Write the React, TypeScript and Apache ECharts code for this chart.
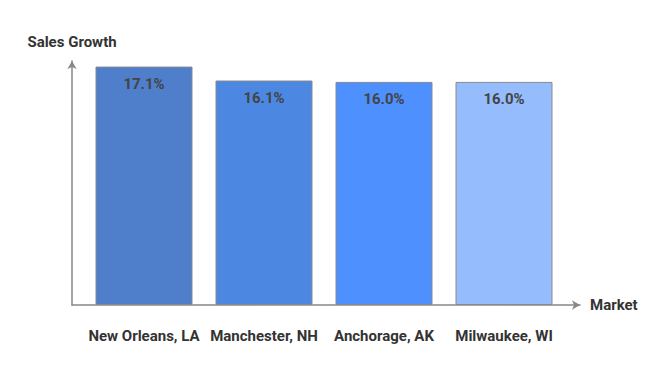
import React, { useEffect, useRef } from "react";
import * as echarts from "echarts";

const categories = ["New Orleans, LA", "Manchester, NH", "Anchorage, AK", "Milwaukee, WI"];
const values = [17.1, 16.1, 16.0, 16.0];
const barColors = ["#4F7FCB", "#4C88E2", "#4D90FE", "#95BDFE"];
const xAxisName = "Market";
const yAxisName = "Sales Growth";

export default function App() {
  const ref = useRef<HTMLDivElement>(null);
  useEffect(() => {
    const chart = echarts.init(ref.current!, null, { renderer: "svg" });
    const font = "Roboto, 'Noto Sans', sans-serif";
    chart.setOption({
      animation: false,
      grid: [
        { left: 84, width: 480, top: 61, height: 244 },
        { left: 72, width: 508, top: 61, height: 244 },
      ],
      xAxis: [
        {
          type: "category",
          gridIndex: 0,
          data: categories,
          axisLine: { show: false },
          axisTick: { show: false },
          axisLabel: {
            interval: 0,
            margin: 23,
            color: "#333",
            fontWeight: "bold",
            fontSize: 15,
            fontFamily: font,
          },
        },
        {
          type: "value",
          gridIndex: 1,
          min: 0,
          max: 1,
          axisLine: {
            show: true,
            symbol: ["none", "arrow"],
            symbolSize: [7, 8],
            lineStyle: { color: "#888", width: 1.5 },
          },
          axisTick: { show: false },
          axisLabel: { show: false },
          splitLine: { show: false },
          name: xAxisName,
          nameLocation: "end",
          nameGap: 10,
          nameTextStyle: { color: "#333", fontWeight: "bold", fontSize: 15, fontFamily: font },
        },
      ],
      yAxis: [
        {
          type: "value",
          gridIndex: 0,
          min: 0,
          max: 17.5,
          axisLine: { show: false },
          axisTick: { show: false },
          axisLabel: { show: false },
          splitLine: { show: false },
        },
        {
          type: "value",
          gridIndex: 1,
          min: 0,
          max: 1,
          axisLine: {
            show: true,
            symbol: ["none", "arrow"],
            symbolSize: [7, 8],
            lineStyle: { color: "#888", width: 1.5 },
          },
          axisTick: { show: false },
          axisLabel: { show: false },
          splitLine: { show: false },
          name: yAxisName,
          nameLocation: "end",
          nameGap: 12,
          nameTextStyle: { color: "#333", fontWeight: "bold", fontSize: 15, fontFamily: font },
        },
      ],
      series: [
        {
          type: "bar",
          xAxisIndex: 0,
          yAxisIndex: 0,
          barWidth: 97,
          data: values.map((v, i) => ({
            value: v,
            itemStyle: { color: barColors[i], borderColor: "#8a8a8a", borderWidth: 1 },
          })),
          label: {
            show: true,
            position: "insideTop",
            distance: 10,
            formatter: (p: any) => p.value.toFixed(1) + "%",
            color: "#444",
            fontWeight: "bold",
            fontSize: 15,
            fontFamily: font,
          },
        },
      ],
    });
    return () => chart.dispose();
  }, []);
  return <div ref={ref} style={{ width: 672, height: 366, position: "absolute", left: 0, top: 0 }} />;
}
